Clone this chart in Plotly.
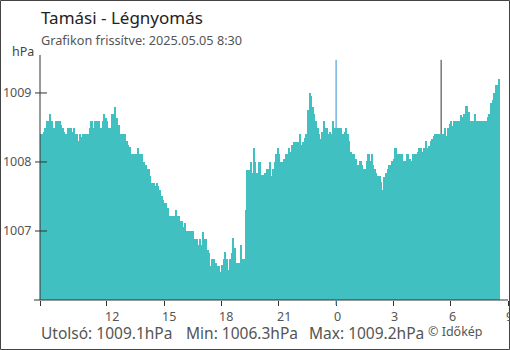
import pandas as pd
import plotly.graph_objects as go

# 5-minute pressure readings (hPa), 2025-05-04 08:30 -> 2025-05-05 08:30
pressure = [
    1008.40, 1008.40, 1008.43, 1008.49, 1008.60, 1008.60, 1008.70, 1008.60, 1008.49, 1008.49,
    1008.60, 1008.60, 1008.60, 1008.54, 1008.49, 1008.43, 1008.40, 1008.49, 1008.49, 1008.49,
    1008.43, 1008.49, 1008.40, 1008.40, 1008.30, 1008.40, 1008.36, 1008.40, 1008.40, 1008.40,
    1008.40, 1008.49, 1008.60, 1008.49, 1008.60, 1008.60, 1008.60, 1008.60, 1008.49, 1008.60,
    1008.70, 1008.64, 1008.60, 1008.49, 1008.49, 1008.70, 1008.70, 1008.80, 1008.64, 1008.54,
    1008.40, 1008.40, 1008.40, 1008.40, 1008.30, 1008.25, 1008.21, 1008.11, 1008.11, 1008.11,
    1008.11, 1008.20, 1008.11, 1008.11, 1008.11, 1008.00, 1007.95, 1007.90, 1007.90, 1007.80,
    1007.70, 1007.70, 1007.65, 1007.70, 1007.65, 1007.60, 1007.50, 1007.45, 1007.40, 1007.40,
    1007.33, 1007.21, 1007.21, 1007.21, 1007.21, 1007.30, 1007.21, 1007.21, 1007.14, 1007.14,
    1007.06, 1007.11, 1007.00, 1007.00, 1007.00, 1007.00, 1007.00, 1006.89, 1006.89, 1006.79,
    1006.89, 1006.79, 1006.99, 1006.89, 1006.89, 1006.73, 1006.68, 1006.49, 1006.59, 1006.59,
    1006.54, 1006.49, 1006.49, 1006.40, 1006.50, 1006.60, 1006.70, 1006.60, 1006.44, 1006.60,
    1006.68, 1006.90, 1006.75, 1006.54, 1006.54, 1006.54, 1006.80, 1006.60, 1006.60, 1007.30,
    1007.89, 1007.89, 1008.00, 1007.84, 1008.20, 1008.00, 1007.84, 1008.00, 1008.00, 1007.81,
    1007.81, 1007.84, 1007.90, 1007.90, 1008.00, 1007.80, 1007.90, 1008.00, 1008.11, 1008.20,
    1008.11, 1008.00, 1008.00, 1008.05, 1008.11, 1008.11, 1008.20, 1008.14, 1008.24, 1008.29,
    1008.29, 1008.29, 1008.29, 1008.40, 1008.24, 1008.29, 1008.35, 1008.40, 1008.75, 1009.00,
    1008.95, 1008.80, 1008.70, 1008.60, 1008.49, 1008.40, 1008.33, 1008.44, 1008.60, 1008.49,
    1008.49, 1008.40, 1008.44, 1008.40, 1008.60, 1008.49, 1008.49, 1008.49, 1008.49, 1008.49,
    1008.40, 1008.44, 1008.49, 1008.40, 1008.30, 1008.14, 1008.11, 1008.11, 1008.05, 1007.95,
    1007.95, 1008.01, 1007.95, 1007.90, 1007.90, 1008.01, 1008.11, 1008.01, 1008.11, 1007.95,
    1007.90, 1007.84, 1007.80, 1007.80, 1007.71, 1007.60, 1007.78, 1007.84, 1007.90, 1007.95,
    1007.95, 1008.01, 1008.05, 1008.20, 1008.11, 1008.11, 1008.11, 1008.11, 1008.01, 1008.01,
    1008.11, 1008.11, 1008.05, 1008.01, 1008.11, 1008.11, 1008.11, 1008.15, 1008.20, 1008.20,
    1008.15, 1008.20, 1008.30, 1008.20, 1008.23, 1008.30, 1008.34, 1008.37, 1008.40, 1008.40,
    1008.40, 1008.40, 1008.40, 1008.40, 1008.49, 1008.37, 1008.49, 1008.55, 1008.60, 1008.52,
    1008.60, 1008.60, 1008.60, 1008.60, 1008.68, 1008.65, 1008.70, 1008.81, 1008.81, 1008.72,
    1008.60, 1008.60, 1008.60, 1008.70, 1008.60, 1008.60, 1008.60, 1008.60, 1008.60, 1008.60,
    1008.60, 1008.65, 1008.70, 1008.86, 1008.90, 1009.00, 1009.11, 1009.11, 1009.20,
]
times = pd.date_range("2025-05-04 08:30", periods=len(pressure), freq="5min")

tick_times = ["2025-05-04 08:30", "2025-05-04 12:00", "2025-05-04 15:00", "2025-05-04 18:00",
              "2025-05-04 21:00", "2025-05-05 00:00", "2025-05-05 03:00", "2025-05-05 06:00",
              "2025-05-05 09:00"]
tick_labels = ["", "12", "15", "18", "21", "0", "3", "6", "9"]
y_ticks = [1007, 1008, 1009]

title = "Tamási - Légnyomás"
subtitle = "Grafikon frissítve: 2025.05.05 8:30"
stats = ["Utolsó: 1009.1hPa", "Min: 1006.3hPa", "Max: 1009.2hPa"]
credit = "© Időkép"
midnight = "2025-05-05 00:00"
sunrise = "2025-05-05 05:30"

FONT = "Noto Sans"
TEAL = "#40C0C0"
AX = "#333333"

# plot area geometry (px)
W, H = 510, 350
L, R, T, B = 40, 2, 55, 50
PW, PH = W - L - R, H - T - B


def px(x):
    return (x - L) / PW


def py(y):
    return (H - B - y) / PH


fig = go.Figure()
fig.add_trace(go.Bar(x=times, y=pressure, width=300000, offset=0,
                     marker=dict(color=TEAL, line=dict(width=0)), hoverinfo="skip"))

shapes = []
# reference lines (behind bars)
shapes.append(dict(type="line", xref="x", yref="y", x0=midnight, x1=midnight, y0=1006, y1=1009.48,
                   line=dict(color="#2b8fd6", width=1), layer="below"))
shapes.append(dict(type="line", xref="x", yref="y", x0=sunrise, x1=sunrise, y0=1006, y1=1009.48,
                   line=dict(color="#333333", width=1), layer="below"))
# axis lines
shapes.append(dict(type="line", xref="paper", yref="paper", x0=px(34), x1=1, y0=0, y1=0,
                   line=dict(color=AX, width=1)))
shapes.append(dict(type="line", xref="paper", yref="paper", x0=0, x1=0, y0=0, y1=1,
                   line=dict(color=AX, width=1)))
# y tick marks crossing axis
for v in y_ticks:
    shapes.append(dict(type="line", xref="paper", yref="y", x0=px(35), x1=px(47), y0=v, y1=v,
                       line=dict(color=AX, width=1)))
# blue midnight tick
shapes.append(dict(type="line", xref="x", yref="paper", x0=midnight, x1=midnight, y0=0, y1=py(305),
                   line=dict(color="#2b8fd6", width=1)))
# outer frame
shapes.append(dict(type="rect", xref="paper", yref="paper", x0=px(0.5), x1=px(509.5),
                   y0=py(349.5), y1=py(0.5), line=dict(color="#444444", width=1)))

annotations = []
annotations.append(dict(text=title, xref="paper", yref="paper", x=px(39), y=py(18),
                        xanchor="left", yanchor="middle", showarrow=False,
                        font=dict(family=FONT, size=17, color="#222222")))
annotations.append(dict(text=subtitle, xref="paper", yref="paper", x=px(39), y=py(40.5),
                        xanchor="left", yanchor="middle", showarrow=False,
                        font=dict(family=FONT, size=12.7, color="#555555")))
annotations.append(dict(text="hPa", xref="paper", yref="paper", x=px(36), y=py(51),
                        xanchor="right", yanchor="middle", showarrow=False,
                        font=dict(family=FONT, size=12.5, color="#444444")))
for t, lab in zip(tick_times, tick_labels):
    if lab:
        annotations.append(dict(text=lab, xref="x", yref="paper", x=t, y=py(316), xshift=-4,
                                xanchor="left", yanchor="middle", showarrow=False,
                                font=dict(family=FONT, size=12.5, color="#555555")))
for s, xpos in zip(stats, [39, 184, 307]):
    annotations.append(dict(text=s, xref="paper", yref="paper", x=px(xpos), y=py(333),
                            xanchor="left", yanchor="middle", showarrow=False,
                            font=dict(family=FONT, size=15.5, color="#555555")))
annotations.append(dict(text=credit, xref="paper", yref="paper", x=px(426), y=py(331),
                        xanchor="left", yanchor="middle", showarrow=False,
                        font=dict(family=FONT, size=12.5, color="#555555")))

fig.update_layout(
    width=W, height=H,
    margin=dict(l=L, r=R, t=T, b=B, pad=0),
    paper_bgcolor="white", plot_bgcolor="white",
    showlegend=False, bargap=0,
    shapes=shapes, annotations=annotations,
    font=dict(family=FONT, color="#555555"),
    xaxis=dict(type="date", range=["2025-05-04 08:30", "2025-05-05 09:00"],
               tickvals=tick_times, ticktext=[""] * len(tick_times),
               ticks="outside", ticklen=5, tickcolor=AX, showgrid=False, zeroline=False,
               showline=False, fixedrange=True),
    yaxis=dict(range=[1006, 1009.55], tickvals=y_ticks, ticktext=[str(v) for v in y_ticks],
               ticks="outside", ticklen=5, tickcolor="rgba(0,0,0,0)", showgrid=False,
               zeroline=False, showline=False, tickfont=dict(family=FONT, size=12.5, color="#555555"),
               fixedrange=True),
)

fig.write_html("out.html", config={"displayModeBar": False},
               post_script="document.body.style.margin='0';document.body.style.padding='0';"
                           "document.body.style.overflow='hidden';")
